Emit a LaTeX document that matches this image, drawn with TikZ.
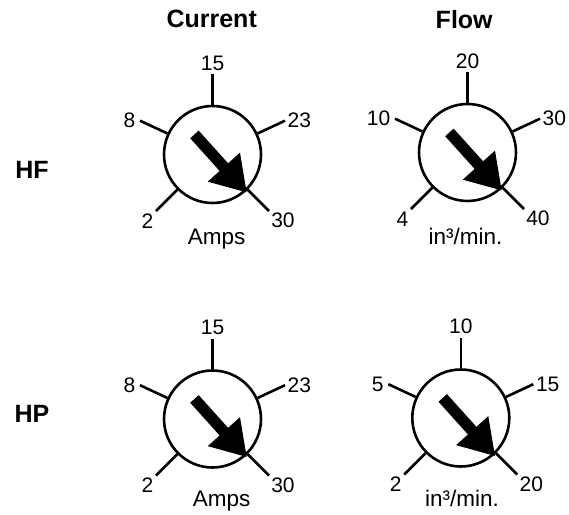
\documentclass[tikz,border=0pt]{standalone}
\usepackage{fontspec}
\setmainfont{Liberation Sans}
\newcommand{\drawdial}[8]{%
  \node[dialc] (#1) at (#2,#3) {};
  \path (#1.center) ++(90:80pt)  coordinate (#1t);
  \path (#1.center) ++(155:80pt) coordinate (#1ul);
  \path (#1.center) ++(25:80pt)  coordinate (#1ur);
  \path (#1.center) ++(225:80pt) coordinate (#1ll);
  \path (#1.center) ++(315:80pt) coordinate (#1lr);
  \draw[tk] (#1.90) -- (#1t);
  \draw[tk] (#1.155) -- (#1ul);
  \draw[tk] (#1.25) -- (#1ur);
  \draw[tk] (#1.225) -- (#1ll);
  \draw[tk] (#1.315) -- (#1lr);
  \node[num, anchor=south, inner sep=4pt] (#1nt) at (#1t) {#4};
  \node[num, anchor=east, inner sep=4.5pt] (#1nul) at (#1ul) {#5};
  \node[num, anchor=west, inner sep=2.5pt] (#1nur) at (#1ur) {#6};
  \node[num, anchor=north east, inner sep=2.5pt] (#1nll) at (#1ll) {#7};
  \node[num, anchor=north west, inner sep=2pt] (#1nlr) at (#1lr) {#8};
  \fill[ptr, shift={(#1.center)}, rotate=-48]
    (51,0) -- (17,21.7) -- (17,5.7) -- (-27,5.7) -- (-27,-5.7) -- (17,-5.7) -- (17,-21.7) -- cycle;
}
\begin{document}
\begin{tikzpicture}[x=1pt,y=1pt,
  dialc/.style={circle, draw, line width=2.6pt, minimum size=97pt, inner sep=0pt},
  tk/.style={line width=2.6pt},
  num/.style={font=\fontsize{21}{25}\selectfont},
  unit/.style={font=\fontsize{22.5}{27}\selectfont, anchor=base, inner sep=0pt},
  head/.style={font=\fontsize{25}{30}\selectfont\bfseries, inner sep=0pt},
  ptr/.style={fill=black}]
\useasboundingbox (0,0) rectangle (569,514);

\node[head] (hcur) at (211.7,494.7) {Current};
\node[head] (hflow) at (464.2,494.7) {Flow};
\node[head] (rhf) at (32,344.3) {HF};
\node[head] (rhp) at (32,100.3) {HP};

\drawdial{da}{212.5}{359.5}{15}{8}{23}{2}{30}
\drawdial{db}{467.5}{361.5}{20}{10}{30}{4}{40}
\drawdial{dc}{212.5}{95}{15}{8}{23}{2}{30}
\drawdial{dd}{460.8}{96}{10}{5}{15}{2}{20}

\node[unit] (ua) at (216.7,269.7) {Amps};
\node[unit] (ub) at (465.5,269) {in³/min.};
\node[unit] (uc) at (221.7,7.3) {Amps};
\node[unit] (ud) at (462,8) {in³/min.};
\end{tikzpicture}
\end{document}
